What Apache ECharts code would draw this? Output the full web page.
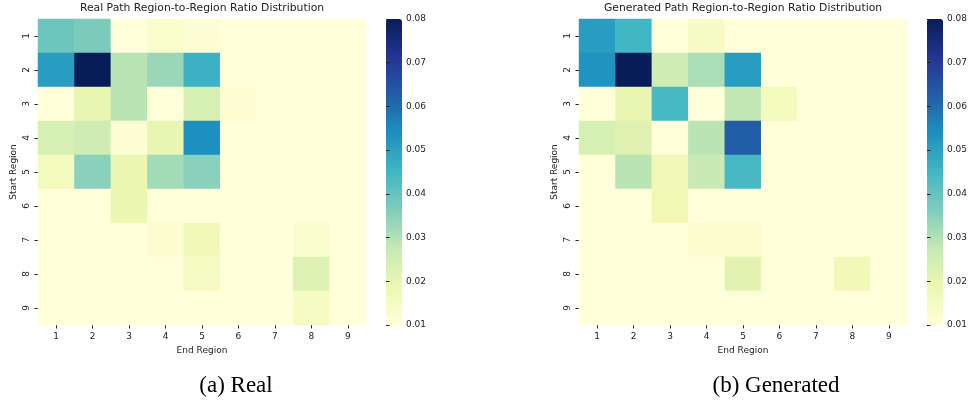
<!DOCTYPE html>
<html>
<head>
<meta charset="utf-8">
<script src="https://cdn.jsdelivr.net/npm/echarts@6/dist/echarts.min.js"></script>
<style>
html,body{margin:0;padding:0;background:#fff;}
#chart{width:971px;height:406px;}
</style>
</head>
<body>
<div id="chart"></div>
<script>
// Categories
var endRegions = ['1','2','3','4','5','6','7','8','9'];
var startRegions = ['1','2','3','4','5','6','7','8','9'];
// Colorbar range / ticks
var cbMin = 0.01;
var cbMax = 0.08;
var cbStep = 0.01;
// Texts
var realTitle = 'Real Path Region-to-Region Ratio Distribution';
var genTitle = 'Generated Path Region-to-Region Ratio Distribution';
var captionReal = '(a) Real';
var captionGen = '(b) Generated';
var xName = 'End Region';
var yName = 'Start Region';

// Real matrix rows (start region 1..9), columns end region 1..9
var realValues = [
  [0.039, 0.037, 0.010, 0.013, 0.011, 0.006, 0.004, 0.004, 0.003],
  [0.051, 0.080, 0.029, 0.033, 0.046, 0.006, 0.004, 0.004, 0.003],
  [0.010, 0.020, 0.029, 0.010, 0.024, 0.011, 0.005, 0.004, 0.003],
  [0.024, 0.026, 0.011, 0.020, 0.054, 0.006, 0.004, 0.004, 0.003],
  [0.016, 0.035, 0.019, 0.032, 0.035, 0.006, 0.004, 0.005, 0.003],
  [0.008, 0.008, 0.019, 0.008, 0.008, 0.004, 0.003, 0.004, 0.002],
  [0.006, 0.006, 0.008, 0.012, 0.017, 0.005, 0.004, 0.0125, 0.003],
  [0.005, 0.005, 0.006, 0.008, 0.015, 0.004, 0.004, 0.0225, 0.004],
  [0.004, 0.004, 0.005, 0.006, 0.008, 0.003, 0.003, 0.0145, 0.004]
];
// Generated matrix rows
var genValues = [
  [0.051, 0.045, 0.010, 0.014, 0.006, 0.004, 0.004, 0.003, 0.003],
  [0.053, 0.080, 0.026, 0.031, 0.051, 0.005, 0.004, 0.004, 0.003],
  [0.010, 0.020, 0.044, 0.010, 0.028, 0.016, 0.005, 0.004, 0.003],
  [0.024, 0.022, 0.010, 0.029, 0.0625, 0.006, 0.004, 0.004, 0.003],
  [0.010, 0.029, 0.017, 0.027, 0.044, 0.006, 0.004, 0.005, 0.003],
  [0.007, 0.008, 0.018, 0.008, 0.008, 0.004, 0.003, 0.004, 0.002],
  [0.006, 0.006, 0.008, 0.012, 0.012, 0.005, 0.004, 0.008, 0.003],
  [0.005, 0.005, 0.006, 0.008, 0.021, 0.004, 0.004, 0.017, 0.004],
  [0.004, 0.004, 0.005, 0.006, 0.008, 0.003, 0.003, 0.009, 0.004]
];

var ylgnbu = ['#ffffd9','#edf8b1','#c7e9b4','#7fcdbb','#41b6c4','#1d91c0','#225ea8','#253494','#081d58'];

function toData(m) {
  var out = [];
  for (var r = 0; r < m.length; r++) {
    for (var c = 0; c < m[r].length; c++) {
      out.push([c, r, m[r][c]]);
    }
  }
  return out;
}

var FONT = 'DejaVu Sans';
var TXT = '#222222';

function heatX(gi) {
  return {
    type: 'category', gridIndex: gi, data: endRegions, position: 'bottom',
    axisLine: {show: false},
    axisTick: {show: true, alignWithLabel: true, length: 3.5, lineStyle: {color: '#222', width: 1}},
    axisLabel: {fontFamily: FONT, fontSize: 9, color: TXT, margin: 7},
    splitLine: {show: false},
    name: xName, nameLocation: 'middle', nameGap: 19,
    nameTextStyle: {fontFamily: FONT, fontSize: 9, color: TXT}
  };
}
function heatY(gi) {
  return {
    type: 'category', gridIndex: gi, data: startRegions, inverse: true,
    axisLine: {show: false},
    axisTick: {show: true, alignWithLabel: true, length: 3.5, lineStyle: {color: '#222', width: 1}},
    axisLabel: {fontFamily: FONT, fontSize: 9, color: TXT, rotate: 90, margin: 7},
    splitLine: {show: false},
    name: yName, nameLocation: 'middle', nameGap: 20, nameRotate: 90,
    nameTextStyle: {fontFamily: FONT, fontSize: 9, color: TXT}
  };
}
function cbX(gi) {
  return {type: 'value', gridIndex: gi, show: false, min: 0, max: 1};
}
function cbY(gi) {
  return {
    type: 'value', gridIndex: gi, min: cbMin, max: cbMax, interval: cbStep, position: 'right',
    axisLine: {show: false},
    axisTick: {show: true, inside: false, length: 3.5, lineStyle: {color: '#222', width: 1}},
    axisLabel: {fontFamily: FONT, fontSize: 9, color: TXT, margin: 4,
      formatter: function (v) { return v.toFixed(2); }},
    splitLine: {show: false},
    z: 10
  };
}
function vm(si, left) {
  return {
    type: 'continuous', seriesIndex: si, min: cbMin, max: cbMax,
    left: left, top: 19, itemWidth: 16, itemHeight: 306, padding: 0,
    calculable: false, realtime: false, hoverLink: false,
    inRange: {color: ylgnbu}, outOfRange: {color: ['#ffffd9']},
    text: null, showLabel: false, z: 2
  };
}

var chart = echarts.init(document.getElementById('chart'), null, {renderer: 'canvas'});
chart.setOption({
  animation: false,
  backgroundColor: '#ffffff',
  title: [
    {text: realTitle, left: 202, top: 3, padding: 0, textAlign: 'center',
      textStyle: {fontFamily: FONT, fontSize: 10.8, fontWeight: 'normal', color: TXT}},
    {text: genTitle, left: 743, top: 3, padding: 0, textAlign: 'center',
      textStyle: {fontFamily: FONT, fontSize: 10.8, fontWeight: 'normal', color: TXT}},
    {text: captionReal, left: 236, top: 374, padding: 0, textAlign: 'center',
      textStyle: {fontFamily: 'Liberation Serif', fontSize: 23, fontWeight: 'normal', color: '#000'}},
    {text: captionGen, left: 776, top: 374, padding: 0, textAlign: 'center',
      textStyle: {fontFamily: 'Liberation Serif', fontSize: 23, fontWeight: 'normal', color: '#000'}}
  ],
  grid: [
    {left: 38, top: 19, width: 328, height: 306},
    {left: 579, top: 19, width: 328, height: 306},
    {left: 386, top: 19, width: 16, height: 306},
    {left: 927, top: 19, width: 16, height: 306}
  ],
  xAxis: [heatX(0), heatX(1), cbX(2), cbX(3)],
  yAxis: [heatY(0), heatY(1), cbY(2), cbY(3)],
  visualMap: [vm(0, 386), vm(1, 927)],
  series: [
    {type: 'heatmap', xAxisIndex: 0, yAxisIndex: 0, data: toData(realValues),
      itemStyle: {borderWidth: 0}, emphasis: {disabled: true}},
    {type: 'heatmap', xAxisIndex: 1, yAxisIndex: 1, data: toData(genValues),
      itemStyle: {borderWidth: 0}, emphasis: {disabled: true}}
  ]
});
</script>
</body>
</html>
